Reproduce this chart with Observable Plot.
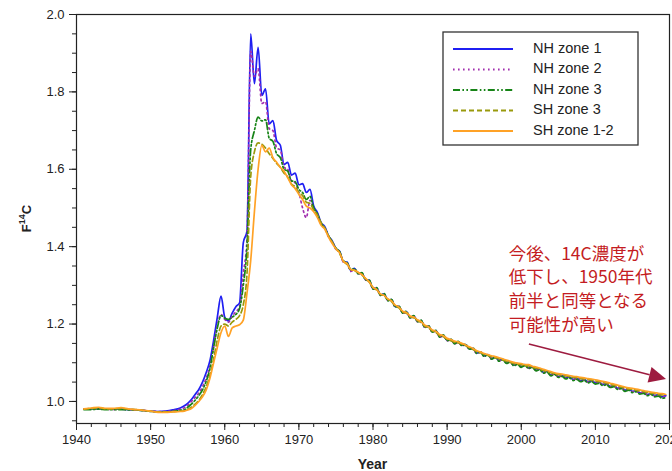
<!DOCTYPE html>
<html><head><meta charset="utf-8">
<script src="https://cdn.jsdelivr.net/npm/d3@7"></script>
<script src="https://cdn.jsdelivr.net/npm/@observablehq/plot@0.6"></script>
<style>
body{margin:0;background:#fff;}
#chart{width:672px;height:471px;overflow:hidden;}
</style></head><body><div id="chart"></div>
<script>
// sampling years (annual pre-bomb, half-year afterwards)
const years = [
1941,1942,1943,1944,1945,1946,1947,1948,1949,1950,1951,1952,1953,1954,
1954.5,1955,1955.5,1956,1956.5,1957,1957.5,1958,1958.5,1959,
1959.5,1960,1960.5,1961,1961.5,1962,1962.5,1963,1963.5,1964,
1964.5,1965,1965.5,1966,1966.5,1967,1967.5,1968,1968.5,1969,
1969.5,1970,1970.5,1971,1971.5,1972,1972.5,1973,1973.5,1974,
1974.5,
1975,1975.5,1976,1976.5,1977,1977.5,1978,1978.5,1979,1979.5,
1980,1980.5,1981,1981.5,1982,1982.5,1983,1983.5,1984,1984.5,
1985,1985.5,1986,1986.5,1987,1987.5,1988,1988.5,1989,1989.5,
1990,1990.5,1991,1991.5,1992,1992.5,1993,1993.5,1994,1994.5,
1995,1995.5,1996,1996.5,1997,1997.5,1998,1998.5,1999,1999.5,
2000,2000.5,2001,2001.5,2002,2002.5,2003,2003.5,2004,2004.5,
2005,2005.5,2006,2006.5,2007,2007.5,2008,2008.5,2009,2009.5,
2010,2010.5,2011,2011.5,2012,2012.5,2013,2013.5,2014,2014.5,
2015,2015.5,2016,2016.5,2017,2017.5,2018,2018.5,2019,2019.5
];

const nhZone1 = [
0.980,0.981,0.981,0.980,0.980,0.980,0.979,0.978,0.977,0.975,0.974,0.975,0.978,0.983,
0.988,0.995,1.005,1.018,1.031,1.050,1.075,1.105,1.158,1.218,
1.272,1.218,1.208,1.228,1.245,1.255,1.410,1.440,1.950,1.821,
1.915,1.791,1.808,1.717,1.726,1.674,1.662,1.612,1.618,1.585,
1.590,1.560,1.563,1.540,1.548,1.505,1.488,1.462,1.452,1.428,
1.415,
1.395,1.388,1.362,1.360,1.339,1.344,1.331,1.332,1.315,1.313,
1.292,1.293,1.275,1.278,1.262,1.263,1.245,1.246,1.229,1.232,
1.217,1.221,1.207,1.209,1.192,1.195,1.180,1.183,1.167,1.171,
1.158,1.160,1.150,1.154,1.145,1.147,1.136,1.137,1.125,1.128,
1.118,1.121,1.111,1.115,1.106,1.109,1.100,1.103,1.094,1.098,
1.090,1.095,1.087,1.090,1.081,1.084,1.075,1.078,1.068,1.072,
1.064,1.067,1.061,1.063,1.057,1.060,1.054,1.057,1.051,1.054,
1.048,1.050,1.044,1.046,1.039,1.041,1.034,1.036,1.029,1.032,
1.026,1.028,1.022,1.024,1.018,1.021,1.015,1.018,1.012,1.015
];

const nhZone2 = [
0.980,0.980,0.981,0.980,0.979,0.980,0.979,0.978,0.977,0.975,0.974,0.974,0.976,0.980,
0.983,0.990,1.000,1.010,1.022,1.038,1.060,1.090,1.140,1.195,
1.225,1.212,1.205,1.220,1.232,1.245,1.330,1.420,1.905,1.840,
1.860,1.770,1.775,1.705,1.700,1.655,1.650,1.605,1.600,1.570,
1.565,1.540,1.500,1.475,1.520,1.495,1.482,1.458,1.448,1.425,
1.412,
1.393,1.386,1.360,1.357,1.336,1.341,1.330,1.330,1.314,1.311,
1.291,1.292,1.274,1.277,1.261,1.262,1.244,1.245,1.228,1.231,
1.216,1.220,1.206,1.208,1.191,1.194,1.179,1.182,1.166,1.170,
1.157,1.159,1.149,1.153,1.144,1.146,1.135,1.136,1.124,1.127,
1.117,1.120,1.110,1.114,1.105,1.108,1.099,1.102,1.093,1.097,
1.089,1.094,1.086,1.089,1.080,1.083,1.074,1.077,1.067,1.071,
1.063,1.066,1.060,1.062,1.056,1.059,1.053,1.056,1.050,1.053,
1.047,1.049,1.043,1.045,1.038,1.040,1.033,1.035,1.028,1.031,
1.025,1.027,1.021,1.023,1.017,1.020,1.014,1.017,1.011,1.014
];

const nhZone3 = [
0.979,0.979,0.980,0.979,0.979,0.979,0.978,0.978,0.976,0.974,0.973,0.973,0.974,0.977,
0.978,0.985,0.993,1.003,1.015,1.030,1.052,1.085,1.140,1.190,
1.222,1.215,1.212,1.218,1.225,1.240,1.300,1.400,1.650,1.700,
1.735,1.725,1.728,1.680,1.672,1.640,1.630,1.600,1.595,1.570,
1.568,1.548,1.540,1.522,1.530,1.500,1.485,1.460,1.448,1.428,
1.412,
1.396,1.387,1.363,1.359,1.340,1.343,1.330,1.333,1.314,1.314,
1.290,1.294,1.274,1.279,1.260,1.264,1.244,1.247,1.228,1.233,
1.216,1.222,1.206,1.210,1.191,1.196,1.179,1.184,1.166,1.172,
1.157,1.161,1.149,1.155,1.144,1.148,1.135,1.138,1.124,1.128,
1.116,1.121,1.109,1.114,1.104,1.108,1.098,1.102,1.092,1.096,
1.088,1.093,1.085,1.088,1.079,1.082,1.073,1.076,1.066,1.070,
1.062,1.065,1.058,1.061,1.054,1.057,1.051,1.054,1.048,1.051,
1.045,1.047,1.041,1.043,1.036,1.038,1.031,1.033,1.026,1.029,
1.023,1.025,1.019,1.021,1.015,1.018,1.012,1.014,1.008,1.010
];

const shZone3 = [
0.980,0.982,0.983,0.981,0.981,0.982,0.980,0.979,0.977,0.975,0.973,0.973,0.974,0.975,
0.976,0.980,0.985,0.993,1.003,1.018,1.038,1.068,1.110,1.160,
1.195,1.200,1.195,1.205,1.212,1.222,1.250,1.330,1.580,1.645,
1.668,1.665,1.655,1.640,1.628,1.615,1.605,1.590,1.580,1.562,
1.555,1.540,1.532,1.515,1.512,1.495,1.482,1.462,1.448,1.428,
1.412,
1.396,1.382,1.363,1.354,1.341,1.338,1.333,1.327,1.317,1.308,
1.294,1.288,1.277,1.273,1.264,1.258,1.247,1.242,1.231,1.228,
1.219,1.216,1.209,1.204,1.194,1.190,1.182,1.178,1.170,1.167,
1.161,1.157,1.153,1.151,1.148,1.144,1.139,1.134,1.129,1.126,
1.122,1.119,1.115,1.113,1.110,1.107,1.104,1.101,1.098,1.096,
1.095,1.092,1.092,1.088,1.086,1.083,1.080,1.077,1.074,1.071,
1.069,1.068,1.066,1.064,1.062,1.061,1.059,1.058,1.056,1.055,
1.053,1.051,1.049,1.047,1.044,1.042,1.039,1.037,1.034,1.032,
1.031,1.029,1.027,1.025,1.023,1.021,1.020,1.018,1.017,1.015
];

const shZone12 = [
0.981,0.983,0.985,0.982,0.982,0.984,0.981,0.979,0.977,0.975,0.972,0.972,0.973,0.974,
0.975,0.978,0.982,0.990,1.000,1.012,1.030,1.060,1.100,1.140,
1.178,1.195,1.168,1.190,1.195,1.198,1.210,1.280,1.364,1.490,
1.600,1.662,1.645,1.655,1.630,1.618,1.605,1.595,1.578,1.560,
1.550,1.535,1.522,1.505,1.500,1.490,1.475,1.455,1.445,1.425,
1.408,
1.394,1.384,1.362,1.356,1.341,1.339,1.334,1.328,1.318,1.309,
1.295,1.289,1.278,1.274,1.265,1.260,1.249,1.244,1.233,1.230,
1.221,1.218,1.211,1.206,1.197,1.193,1.185,1.181,1.173,1.170,
1.163,1.160,1.156,1.154,1.150,1.146,1.141,1.137,1.131,1.128,
1.124,1.121,1.118,1.116,1.113,1.110,1.107,1.104,1.101,1.099,
1.098,1.095,1.095,1.091,1.089,1.086,1.083,1.080,1.077,1.074,
1.072,1.071,1.069,1.067,1.065,1.064,1.062,1.061,1.059,1.058,
1.056,1.054,1.052,1.050,1.047,1.045,1.042,1.040,1.037,1.035,
1.034,1.032,1.030,1.028,1.026,1.024,1.023,1.021,1.020,1.018
];

const seriesNames = ["NH zone 1","NH zone 2","NH zone 3","SH zone 3","SH zone 1-2"];
const seriesValues = [nhZone1, nhZone2, nhZone3, shZone3, shZone12];
const seriesColors = ["#1f1ff2","#a12eae","#178417","#999a0c","#ffa226"];
const seriesDash = [null, "1.6 3.4", "7 2.4 1.6 2.4 1.6 2.4", "5 3", null];

const yTicks = [1.0,1.2,1.4,1.6,1.8,2.0];
const yMinorTicks = [0.95,1.0,1.05,1.1,1.15,1.2,1.25,1.3,1.35,1.4,1.45,1.5,1.55,1.6,1.65,1.7,1.75,1.8,1.85,1.9,1.95,2.0];
const xTicks = [1940,1950,1960,1970,1980,1990,2000,2010,2020];
const xMinorTicks = [1940,1942,1944,1946,1948,1950,1952,1954,1956,1958,1960,1962,1964,1966,1968,1970,1972,1974,1976,1978,1980,1982,1984,1986,1988,1990,1992,1994,1996,1998,2000,2002,2004,2006,2008,2010,2012,2014,2016,2018,2020];

const noteLines = ["今後、14C濃度が","低下し、1950年代","前半と同等となる","可能性が高い"];
const noteAnchor = {year: 1998.3, value: 1.294};
const arrowFrom = {year: 2001.1, value: 1.147};
const arrowTo = {year: 2019.6, value: 1.057};

const ink = "#222";
const marks = [];
seriesValues.forEach((vals, i) => {
  const data = years.map((yr, j) => ({year: yr, value: vals[j], series: seriesNames[i]}));
  const opts = {x: "year", y: "value", stroke: seriesColors[i], strokeWidth: 1.7, curve: "monotone-x", strokeLinejoin: "round"};
  if (seriesDash[i]) opts.strokeDasharray = seriesDash[i];
  marks.push(Plot.line(data, opts));
});

marks.push(
  Plot.axisY(yMinorTicks, {tickSize: 4, tickFormat: () => "", label: null, stroke: ink}),
  Plot.axisY(yTicks, {tickSize: 7, tickPadding: 5, tickFormat: d3.format(".1f"), label: null, fontSize: 13, fill: ink, stroke: ink}),
  Plot.axisX(xMinorTicks, {tickSize: 4, tickFormat: () => "", label: null, stroke: ink}),
  Plot.axisX(xTicks, {tickSize: 7, tickPadding: 4, tickFormat: d => String(d), label: null, fontSize: 13, fill: ink, stroke: ink}),
  Plot.frame({stroke: ink, strokeWidth: 1.2}),
  Plot.text([noteLines.join("\n")], {
    x: noteAnchor.year, y: noteAnchor.value, text: d => d,
    textAnchor: "start", lineAnchor: "middle", lineHeight: 1.36,
    fontSize: 17.5, fill: "#c41c22", fontFamily: "'Noto Sans CJK JP', sans-serif"
  })
);

const chart = Plot.plot({
  width: 672, height: 471,
  marginLeft: 76, marginRight: 3, marginTop: 14, marginBottom: 48,
  x: {domain: [1940, 2020]},
  y: {domain: [0.943, 2.0]},
  style: {fontFamily: "'Liberation Sans', Arial, sans-serif", fontSize: "13px", background: "#fff", color: ink},
  marks
});
document.getElementById("chart").append(chart);

const svg = d3.select(chart);
const sx = chart.scale("x"), sy = chart.scale("y");

// axis titles
const yl = svg.append("text")
  .attr("transform", `translate(28,${(14 + 423) / 2}) rotate(-90)`)
  .attr("text-anchor", "middle").attr("dominant-baseline", "middle")
  .attr("font-family", "'Liberation Sans', Arial, sans-serif")
  .attr("font-weight", "bold").attr("font-size", 13).attr("fill", ink);
yl.append("tspan").text("F");
yl.append("tspan").attr("font-size", 9).attr("dy", -5).text("14");
yl.append("tspan").attr("dy", 5).text("C");

svg.append("text")
  .attr("x", (76 + 669) / 2).attr("y", 465)
  .attr("text-anchor", "middle").attr("dominant-baseline", "middle")
  .attr("font-family", "'Liberation Sans', Arial, sans-serif")
  .attr("font-weight", "bold").attr("font-size", 14).attr("fill", ink)
  .text("Year");

// legend
const lg = svg.append("g").attr("text-anchor", "start");
lg.append("rect").attr("x", 443).attr("y", 32).attr("width", 195).attr("height", 113)
  .attr("fill", "#fff").attr("stroke", "#333").attr("stroke-width", 1.3);
const rowY = [49, 69.5, 90, 110.5, 131];
seriesNames.forEach((name, i) => {
  const ln = lg.append("line").attr("x1", 453).attr("x2", 513).attr("y1", rowY[i]).attr("y2", rowY[i])
    .attr("stroke", seriesColors[i]).attr("stroke-width", 2.2);
  if (seriesDash[i]) ln.attr("stroke-dasharray", seriesDash[i]);
  lg.append("text").attr("x", 533).attr("y", rowY[i]).attr("dominant-baseline", "middle")
    .attr("text-anchor", "start")
    .attr("font-family", "'Liberation Sans', Arial, sans-serif").attr("font-size", 14.5)
    .attr("fill", ink).text(name);
});

// arrow
const ax1 = sx.apply(arrowFrom.year), ay1 = sy.apply(arrowFrom.value);
const ax2 = sx.apply(arrowTo.year), ay2 = sy.apply(arrowTo.value);
const ang = Math.atan2(ay2 - ay1, ax2 - ax1);
const L = 17, W = 8;
const bx = ax2 - L * Math.cos(ang), by = ay2 - L * Math.sin(ang);
const arrowColor = "#9d1b3f";
svg.append("line").attr("x1", ax1).attr("y1", ay1).attr("x2", bx).attr("y2", by)
  .attr("stroke", arrowColor).attr("stroke-width", 1.5);
svg.append("polygon")
  .attr("points", [[ax2, ay2], [bx + W * Math.sin(ang), by - W * Math.cos(ang)], [bx - W * Math.sin(ang), by + W * Math.cos(ang)]].map(p => p.join(",")).join(" "))
  .attr("fill", arrowColor);
</script></body></html>
